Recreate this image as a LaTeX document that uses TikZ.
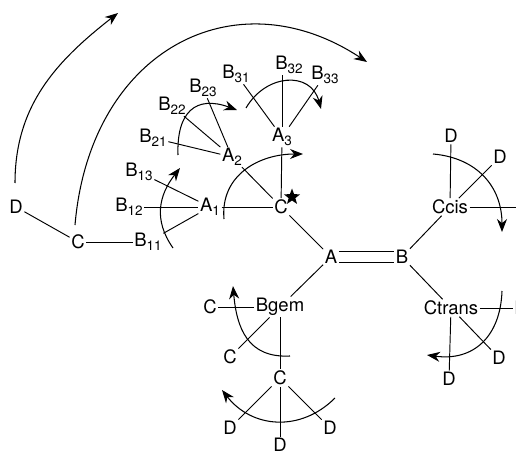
\documentclass[tikz,border=0pt]{standalone}
\usepackage{fontspec}
\setmainfont{TeX Gyre Heros}
\usetikzlibrary{positioning,arrows.meta,shapes.geometric}
\tikzset{
  atomnode/.style = {inner sep=1.5pt, font=\fontsize{18.5}{20}\selectfont},
  bondedge/.style = {line width=0.95pt, black},
  rotarc/.style   = {-{Stealth[length=13pt,width=10pt]}, line width=1.05pt, black},
  starnode/.style = {star, star points=5, star point ratio=2.4, fill=black,
                     minimum size=17pt, inner sep=0pt}
}
\newcommand{\atomsub}[1]{\raisebox{-3.5pt}{\fontsize{13.5}{14}\selectfont #1}}
\begin{document}
\begin{tikzpicture}[x=1pt, y=1pt]
  \useasboundingbox (0,0) rectangle (516,453);
  % Main chain
  \node[atomnode] (A)    at (331,196) {A};
  \node[atomnode] (B)    at (402,196) {B};
  \node[atomnode] (Cs)   at (281,246) {C};
  \node[atomnode] (A1)   at (210,246) {A\atomsub{1}};
  \node[atomnode] (A2)   at (232,296) {A\atomsub{2}};
  \node[atomnode] (A3)   at (282,316) {A\atomsub{3}};
  \node[starnode] (star) at (292,256) {};
  % Substituents on A1
  \node[atomnode] (B11)  at (148,211) {B\atomsub{11}};
  \node[atomnode] (B12)  at (129,246) {B\atomsub{12}};
  \node[atomnode] (B13)  at (139,281) {B\atomsub{13}};
  \node[atomnode] (C1)   at (78,211)  {C};
  \node[atomnode] (D1)   at (16,246)  {D};
  % Substituents on A2
  \node[atomnode] (B21)  at (153,315) {B\atomsub{21}};
  \node[atomnode] (B22)  at (172,347) {B\atomsub{22}};
  \node[atomnode] (B23)  at (203,365) {B\atomsub{23}};
  % Substituents on A3
  \node[atomnode] (B31)  at (236,379) {B\atomsub{31}};
  \node[atomnode] (B32)  at (289,388) {B\atomsub{32}};
  \node[atomnode] (B33)  at (325,378) {B\atomsub{33}};
  % Ccis and Ctrans
  \node[atomnode] (Ccis) at (450,246) {Ccis};
  \node[atomnode] (D2)   at (451,317) {D};
  \node[atomnode] (D3)   at (500,296) {D};
  \coordinate     (D4)   at (516,246);
  \node[atomnode] (Ctr)  at (451,145) {Ctrans};
  \node[atomnode] (D5)   at (521,145) {D};
  \node[atomnode] (D6)   at (499,95)  {D};
  \node[atomnode] (D7)   at (449,74)  {D};
  % Bgem
  \node[atomnode] (Bg)   at (280,146) {Bgem};
  \node[atomnode] (C2)   at (210,146) {C};
  \node[atomnode] (C3)   at (230,96)  {C};
  \node[atomnode] (C4)   at (280,75)  {C};
  \node[atomnode] (D8)   at (230,25)  {D};
  \node[atomnode] (D9)   at (330,25)  {D};
  \node[atomnode] (D10)  at (280,8)   {D};
  % Bonds
  \draw[bondedge] (D1)--(C1); \draw[bondedge] (C1)--(B11); \draw[bondedge] (B11)--(A1);
  \draw[bondedge] (B12)--(A1); \draw[bondedge] (B13)--(A1); \draw[bondedge] (A1)--(Cs);
  \draw[bondedge] (A2)--(Cs); \draw[bondedge] (A3)--(Cs); \draw[bondedge] (Cs)--(A);
  \draw[bondedge] (B21)--(A2); \draw[bondedge] (B22)--(A2); \draw[bondedge] (B23)--(A2);
  \draw[bondedge] (B31)--(A3); \draw[bondedge] (A3 |- B32.south)--(A3); \draw[bondedge] (B33)--(A3);
  \draw[bondedge, double, double distance=10.5pt] (A)--(B);
  \draw[bondedge] (B)--(Ccis); \draw[bondedge] (B)--(Ctr); \draw[bondedge] (A)--(Bg);
  \draw[bondedge] (Ccis)--(D2); \draw[bondedge] (Ccis)--(D3); \draw[bondedge] (Ccis)--(D4);
  \draw[bondedge] (Ctr)--(D5); \draw[bondedge] (Ctr)--(D6); \draw[bondedge] (Ctr)--(D7);
  \draw[bondedge] (Bg)--(C2); \draw[bondedge] (Bg)--(C3); \draw[bondedge] (Bg)--(C4);
  \draw[bondedge] (C4)--(D8); \draw[bondedge] (C4)--(D9); \draw[bondedge] (C4)--(D10);
  % Rotation arcs
  \coordinate (r1s)  at (15,270);   \coordinate (r1e)  at (118,440);
  \coordinate (r2s)  at (75,228);   \coordinate (r2e)  at (367,391);
  \coordinate (r2a)  at (90,403);   \coordinate (r2b)  at (235,478);
  \coordinate (r3s)  at (173,205);  \coordinate (r3e)  at (180,285);
  \coordinate (r4s)  at (178,298);  \coordinate (r4e)  at (237,343);
  \coordinate (r5s)  at (246,345);  \coordinate (r5e)  at (321,344);
  \coordinate (r6s)  at (224,234);  \coordinate (r6e)  at (303,299);
  \coordinate (r7s)  at (433,299);  \coordinate (r7e)  at (502,221);
  \coordinate (r8s)  at (290,97);   \coordinate (r8e)  at (233,167);
  \coordinate (r9s)  at (335,55);   \coordinate (r9e)  at (222,63);
  \coordinate (r10s) at (502,162);  \coordinate (r10e) at (427,98);
  \draw[rotarc] (r1s)  to[out=90,in=218,looseness=1] (r1e);
  \draw[rotarc] (r2s)  .. controls (r2a) and (r2b) .. (r2e);
  \draw[rotarc] (r3s)  to[out=125,in=232,looseness=1.1] (r3e);
  \draw[rotarc] (r4s)  to[out=92,in=160,looseness=1.5] (r4e);
  \draw[rotarc] (r5s)  to[out=60,in=105,looseness=1.35] (r5e);
  \draw[rotarc] (r6s)  to[out=95,in=180,looseness=1.1] (r6e);
  \draw[rotarc] (r7s)  to[out=-5,in=90,looseness=1.1] (r7e);
  \draw[rotarc] (r8s)  to[out=183,in=-85,looseness=1.2] (r8e);
  \draw[rotarc] (r9s)  to[out=225,in=-52,looseness=1.1] (r9e);
  \draw[rotarc] (r10s) to[out=-92,in=-8,looseness=1.2] (r10e);
\end{tikzpicture}
\end{document}
